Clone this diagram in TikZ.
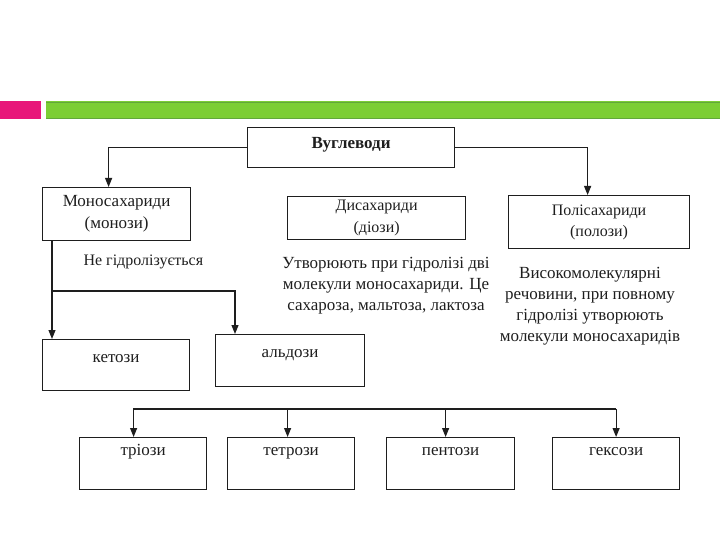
\documentclass[tikz,border=0pt]{standalone}
\usepackage{fontspec}
\setmainfont{Liberation Serif}
\usetikzlibrary{arrows.meta,calc}

\definecolor{barpink}{RGB}{232,22,122}
\definecolor{bargreen}{RGB}{124,206,52}
\definecolor{bargreenline}{RGB}{98,168,58}
\definecolor{ink}{RGB}{30,30,30}

\tikzset{
  box/.style={draw=ink, line width=1.2pt, inner xsep=2pt, inner ysep=0pt,
    align=center, text=ink, anchor=north west},
  conn/.style={draw=ink, line width=1.1pt},
  arr/.style={conn, -{Triangle[length=9pt,width=7pt]}},
  note/.style={text=ink, align=center, font=\fontsize{17}{21}\selectfont},
}

\begin{document}
\begin{tikzpicture}[x=1pt,y=-1pt]
        \useasboundingbox (0,0) rectangle (720,540);

        % header bars
        \fill[barpink] (0,101) rectangle (41,119);
        \fill[bargreen] (46,101) rectangle (720,119);
        \draw[bargreenline, line width=0.8pt] (46,102) -- (720,102)
                                               (46,118) -- (720,118);

        % top level
        \node[box, minimum width=207pt, text height=21pt, text depth=19pt,
              font=\bfseries\fontsize{17}{20}\selectfont] (carb) at (247,127) {Вуглеводи};

        % second level
        \node[box, minimum width=148pt, minimum height=53pt,
              font=\fontsize{17}{22}\selectfont] (mono) at (42,187) {Моносахариди\\(монози)};
        \node[box, minimum width=178pt, minimum height=43pt,
              font=\fontsize{16}{22}\selectfont] (di) at (287,196) {Дисахариди\\(діози)};
        \node[box, minimum width=181pt, minimum height=53pt,
              font=\fontsize{16}{21}\selectfont] (poly) at (508,195) {Полісахариди\\(полози)};

        % descriptions
        \node[note, font=\fontsize{16}{19}\selectfont, anchor=west] (nohydro) at (80,262) {Не гідролізується};
        \node[note] (ditext) at (386,286) {Утворюють при гідролізі дві\\молекули моносахариди. Це\\сахароза, мальтоза, лактоза};
        \node[note] (polytext) at (590,306) {Високомолекулярні\\речовини, при повному\\гідролізі утворюють\\молекули моносахаридів};

        % ketoses and aldoses
        \node[box, minimum width=147pt, text height=23pt, text depth=28pt,
              font=\fontsize{17}{20}\selectfont] (keto) at (42,339) {кетози};
        \node[box, minimum width=149pt, text height=23pt, text depth=29pt,
              font=\fontsize{17}{20}\selectfont] (aldo) at (215,334) {альдози};

        % bottom row
        \foreach \name/\xpos/\boxw/\txt in {
            trio/79/127/тріози,
            tetro/227/127/тетрози,
            pento/386/128/пентози,
            hexo/552/127/гексози}
                \node[box, minimum width=\boxw pt, text height=18pt, text depth=34pt,
                      font=\fontsize{17}{20}\selectfont] (\name) at (\xpos,437) {\txt};

        % connectors from the top box
        \draw[arr] (carb.west) -| ([xshift=-8pt]mono.north);
        \draw[arr] (carb.east) -| ([xshift=-11.5pt]poly.north);

        % monosaccharides split
        \coordinate (split) at (52,291);
        \draw[arr] ([xshift=10pt]mono.south west) -- ([xshift=10pt]keto.north west);
        \draw[arr] (split) -| ([xshift=20pt]aldo.north west);

        % bus to the bottom row
        \coordinate (busL) at (133,409);
        \coordinate (busR) at (616,409);
        \draw[conn] (busL) -- (busR);
        \foreach \name/\dx in {trio/-9.5, tetro/-3.5, pento/-5, hexo/0}
                \draw[arr] ([xshift=\dx pt]\name.north |- busL) -- ([xshift=\dx pt]\name.north);
\end{tikzpicture}
\end{document}
